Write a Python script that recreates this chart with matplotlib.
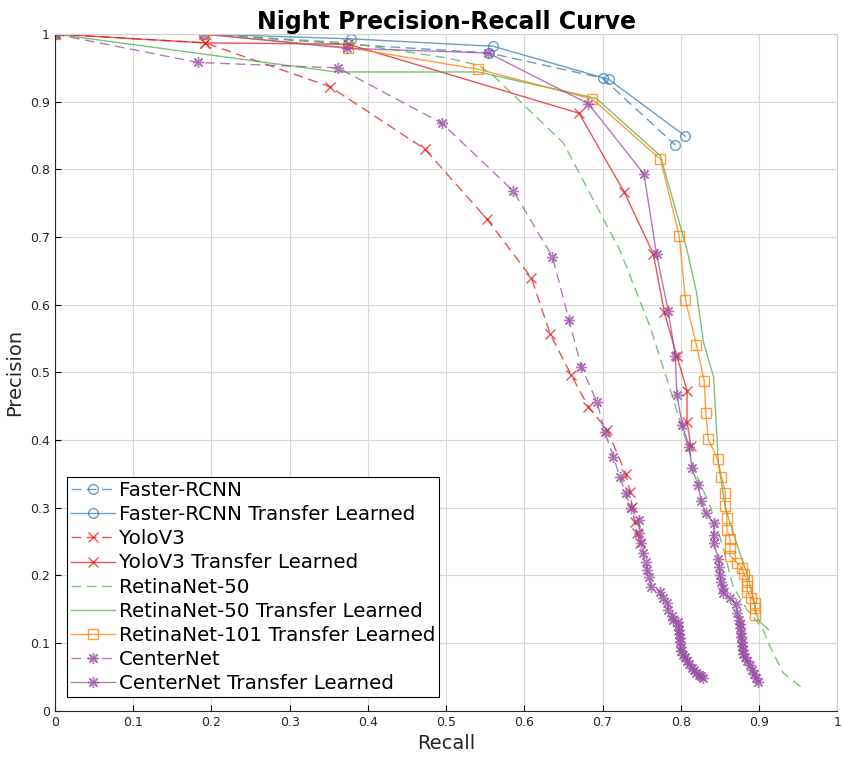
import numpy as np
import matplotlib.pyplot as plt

# Faster-RCNN
frcnn_r = [0.0, 0.19, 0.375, 0.555, 0.70, 0.793]
frcnn_p = [1.0, 1.0, 0.985, 0.972, 0.935, 0.836]
frcnn_tl_r = [0.0, 0.19, 0.378, 0.560, 0.708, 0.806]
frcnn_tl_p = [1.0, 1.0, 0.993, 0.982, 0.933, 0.849]

# YoloV3
yolo_r = [0.0, 0.192, 0.352, 0.473, 0.552, 0.609, 0.633, 0.660, 0.682, 0.706,
          0.730, 0.735, 0.738, 0.741, 0.744, 0.748]
yolo_p = [1.0, 0.987, 0.922, 0.830, 0.727, 0.640, 0.557, 0.496, 0.449, 0.415,
          0.350, 0.324, 0.301, 0.279, 0.263, 0.248]
yolo_tl_r = [0.0, 0.192, 0.375, 0.670, 0.728, 0.765, 0.779, 0.795, 0.808, 0.808, 0.813]
yolo_tl_p = [1.0, 0.987, 0.985, 0.883, 0.766, 0.675, 0.589, 0.524, 0.473, 0.427, 0.391]

# RetinaNet-50
ret50_r = [0.0, 0.19, 0.375, 0.50, 0.541, 0.56, 0.65, 0.722, 0.761, 0.784, 0.821,
           0.838, 0.854, 0.867, 0.885, 0.904, 0.914, 0.931, 0.955]
ret50_p = [1.0, 1.0, 0.987, 0.965, 0.954, 0.939, 0.839, 0.681, 0.567, 0.484, 0.346,
           0.301, 0.242, 0.183, 0.149, 0.123, 0.095, 0.056, 0.034]
ret50_tl_r = [0.0, 0.36, 0.541, 0.692, 0.774, 0.808, 0.820, 0.829, 0.842, 0.848,
              0.857, 0.872, 0.886, 0.899, 0.912]
ret50_tl_p = [1.0, 0.944, 0.944, 0.905, 0.820, 0.681, 0.619, 0.545, 0.493, 0.366,
              0.300, 0.245, 0.198, 0.134, 0.120]

# RetinaNet-101 Transfer Learned
ret101_tl_r = [0.0, 0.19, 0.375, 0.541, 0.687, 0.774, 0.798, 0.806, 0.820, 0.830,
               0.832, 0.835, 0.847, 0.852, 0.857, 0.857, 0.859, 0.859, 0.863, 0.863,
               0.863, 0.872, 0.878, 0.881, 0.885, 0.885, 0.885, 0.890, 0.895, 0.895, 0.895]
ret101_tl_p = [1.0, 1.0, 0.980, 0.948, 0.904, 0.815, 0.702, 0.607, 0.541, 0.487,
               0.440, 0.402, 0.372, 0.346, 0.322, 0.303, 0.285, 0.267, 0.254, 0.241,
               0.229, 0.219, 0.211, 0.202, 0.193, 0.185, 0.176, 0.167, 0.160, 0.152, 0.142]

# CenterNet
cn_r = [0.0, 0.183, 0.362, 0.495, 0.586, 0.636, 0.657, 0.673, 0.693, 0.703, 0.714,
        0.722, 0.730, 0.736, 0.746, 0.747, 0.749, 0.752, 0.755, 0.757, 0.760, 0.762,
        0.774, 0.777, 0.783, 0.784, 0.789, 0.790, 0.797, 0.797, 0.798, 0.798, 0.799,
        0.799, 0.800, 0.800, 0.803, 0.806, 0.808, 0.811, 0.814, 0.817, 0.820, 0.823,
        0.826, 0.829]
cn_p = [1.0, 0.958, 0.950, 0.868, 0.768, 0.671, 0.578, 0.508, 0.456, 0.412, 0.375,
        0.346, 0.322, 0.300, 0.282, 0.263, 0.248, 0.233, 0.220, 0.208, 0.198, 0.183,
        0.176, 0.167, 0.160, 0.149, 0.140, 0.134, 0.131, 0.125, 0.119, 0.113, 0.107,
        0.101, 0.095, 0.088, 0.083, 0.080, 0.074, 0.069, 0.064, 0.060, 0.056, 0.053,
        0.051, 0.049]
cn_tl_r = [0.0, 0.19, 0.373, 0.554, 0.682, 0.753, 0.769, 0.784, 0.793, 0.795, 0.802,
           0.811, 0.814, 0.822, 0.826, 0.832, 0.842, 0.842, 0.842, 0.848, 0.849, 0.850,
           0.851, 0.854, 0.854, 0.863, 0.870, 0.872, 0.875, 0.876, 0.876, 0.877, 0.877,
           0.878, 0.878, 0.879, 0.880, 0.882, 0.885, 0.888, 0.891, 0.894, 0.896, 0.899]
cn_tl_p = [1.0, 1.0, 0.979, 0.972, 0.897, 0.793, 0.675, 0.591, 0.524, 0.467, 0.422,
           0.390, 0.359, 0.334, 0.310, 0.292, 0.277, 0.260, 0.248, 0.225, 0.213, 0.201,
           0.191, 0.182, 0.174, 0.167, 0.158, 0.145, 0.134, 0.128, 0.122, 0.115, 0.109,
           0.102, 0.096, 0.090, 0.084, 0.080, 0.073, 0.067, 0.061, 0.055, 0.049, 0.043]

blue = '#377eb8'
red = '#e41a1c'
green = '#4daf4a'
orange = '#ff7f00'
purple = '#984ea3'

fig = plt.figure(figsize=(8.44, 7.57), dpi=100)
ax = fig.add_axes([0.065, 0.061, 0.927, 0.894])

a = 0.75
dash = (7, 4)
star = (8, 2, 0)
ax.plot(frcnn_r, frcnn_p, '--o', color=blue, alpha=a, lw=1, ms=7, mfc='none', dashes=dash, label='Faster-RCNN')
ax.plot(frcnn_tl_r, frcnn_tl_p, '-o', color=blue, alpha=a, lw=1, ms=7, mfc='none', label='Faster-RCNN Transfer Learned')
ax.plot(yolo_r, yolo_p, '--x', color=red, alpha=a, lw=1, ms=7, dashes=dash, label='YoloV3')
ax.plot(yolo_tl_r, yolo_tl_p, '-x', color=red, alpha=a, lw=1, ms=7, label='YoloV3 Transfer Learned')
ax.plot(ret50_r, ret50_p, '--', color=green, alpha=a, lw=1, dashes=dash, label='RetinaNet-50')
ax.plot(ret50_tl_r, ret50_tl_p, '-', color=green, alpha=a, lw=1, label='RetinaNet-50 Transfer Learned')
ax.plot(ret101_tl_r, ret101_tl_p, '-s', color=orange, alpha=a, lw=1, ms=7, mfc='none', label='RetinaNet-101 Transfer Learned')
ax.plot(cn_r, cn_p, '--', marker=star, color=purple, alpha=a, lw=1, ms=8, mew=1, dashes=dash, label='CenterNet')
ax.plot(cn_tl_r, cn_tl_p, '-', marker=star, color=purple, alpha=a, lw=1, ms=8, mew=1, label='CenterNet Transfer Learned')

ticks = np.arange(0, 1.01, 0.1)
labels = ['0'] + ['%.1f' % t for t in ticks[1:-1]] + ['1']
ax.set_xlim(0, 1)
ax.set_ylim(0, 1)
ax.set_xticks(ticks)
ax.set_xticklabels(labels)
ax.set_yticks(ticks)
ax.set_yticklabels(labels)
ax.tick_params(direction='in', labelsize=9, labelcolor='#262626', length=4)
ax.grid(True, color='#d9d9d9', lw=0.8)
ax.set_axisbelow(True)
for s in ['top', 'right']:
    ax.spines[s].set_color('#d0d0d0')
ax.spines['left'].set_color('#262626')
ax.spines['bottom'].set_color('#262626')

ax.set_title('Night Precision-Recall Curve', fontsize=17, fontweight='bold', pad=-1)
ax.set_xlabel('Recall', fontsize=14, color='#262626')
ax.set_ylabel('Precision', fontsize=14, color='#262626')

leg = ax.legend(loc='lower left', bbox_to_anchor=(0.016, 0.02), fontsize=14.3,
                fancybox=False, edgecolor='black', framealpha=1, labelspacing=0.26,
                handlelength=2.2, handletextpad=0.2, borderpad=0.2, borderaxespad=0)
leg.get_frame().set_linewidth(0.8)

plt.savefig('out.png', dpi=100)
